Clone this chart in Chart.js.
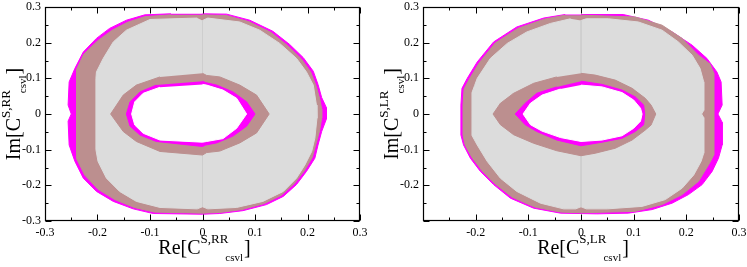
<!DOCTYPE html>
<html>
<head>
<meta charset="utf-8">
<script src="https://cdn.jsdelivr.net/npm/chart.js@4.4.0/dist/chart.umd.min.js"></script>
<style>
body{margin:0;background:#fff;}
#wrap{display:flex;width:747px;height:267px;}
canvas{display:block;}
</style>
</head>
<body>
<div id="wrap">
<canvas id="canvaRR" width="373" height="267"></canvas>
<canvas id="canvaLR" width="374" height="267"></canvas>
</div>
<script>
// contornos, [Re, Im]

// painel esquerdo (S,RR)
var rrMagentaFora = [[0,0.281],[0.046,0.28],[0.09,0.263],[0.134,0.232],[0.166,0.195],[0.192,0.158],[0.211,0.12],[0.22,0.083],[0.227,0.046],[0.236,0.018],[0.236,-0.014],[0.227,-0.049],[0.22,-0.087],[0.214,-0.124],[0.198,-0.161],[0.179,-0.198],[0.154,-0.231],[0.122,-0.254],[0.077,-0.271],[0.033,-0.279],[0,-0.281],[-0.094,-0.279],[-0.132,-0.266],[-0.17,-0.245],[-0.202,-0.217],[-0.227,-0.18],[-0.243,-0.133],[-0.254,-0.087],[-0.256,-0.02],[-0.25,0],[-0.256,0.025],[-0.254,0.09],[-0.243,0.128],[-0.227,0.174],[-0.202,0.212],[-0.177,0.24],[-0.145,0.263],[-0.11,0.278],[-0.06,0.281]];
var rrMarromFora = [[0,0.278],[0.046,0.276],[0.088,0.259],[0.13,0.229],[0.162,0.192],[0.188,0.155],[0.206,0.118],[0.216,0.08],[0.223,0.044],[0.227,0.015],[0.227,-0.012],[0.223,-0.047],[0.216,-0.085],[0.209,-0.122],[0.194,-0.159],[0.175,-0.195],[0.15,-0.228],[0.118,-0.251],[0.075,-0.268],[0.033,-0.276],[0,-0.278],[-0.092,-0.275],[-0.13,-0.262],[-0.167,-0.24],[-0.199,-0.211],[-0.224,-0.172],[-0.24,-0.125],[-0.24,0.125],[-0.226,0.168],[-0.2,0.205],[-0.173,0.234],[-0.143,0.257],[-0.11,0.273],[-0.06,0.278]];
var rrCinzaFora = [[0,0.262],[0.01,0.269],[0.071,0.258],[0.109,0.235],[0.147,0.198],[0.179,0.156],[0.198,0.118],[0.211,0.081],[0.217,0.025],[0.218,-0.012],[0.214,-0.068],[0.208,-0.105],[0.195,-0.143],[0.179,-0.18],[0.154,-0.217],[0.115,-0.245],[0.065,-0.262],[0.01,-0.266],[0,-0.26],[-0.01,-0.266],[-0.081,-0.262],[-0.126,-0.245],[-0.158,-0.217],[-0.183,-0.18],[-0.199,-0.133],[-0.203,-0.1],[-0.203,0.1],[-0.202,0.118],[-0.189,0.156],[-0.17,0.202],[-0.145,0.235],[-0.1,0.265],[-0.01,0.269]];
var rrMarromDentro = [[0,0.114],[0.008,0.108],[0.033,0.104],[0.071,0.081],[0.103,0.053],[0.127,0],[0.103,-0.053],[0.071,-0.081],[0.033,-0.104],[0.008,-0.108],[0,-0.115],[-0.081,-0.105],[-0.126,-0.077],[-0.151,-0.049],[-0.175,0],[-0.151,0.053],[-0.126,0.081],[-0.081,0.104]];
var rrMagentaDentro = [[0,0.092],[0.006,0.088],[0.027,0.081],[0.058,0.062],[0.084,0.034],[0.1,0],[0.084,-0.034],[0.058,-0.062],[0.027,-0.081],[0.006,-0.087],[0,-0.091],[-0.088,-0.077],[-0.119,-0.059],[-0.138,-0.034],[-0.145,0],[-0.138,0.034],[-0.119,0.062],[-0.088,0.081]];
var rrBuraco = [[0,0.083],[0.008,0.081],[0.039,0.067],[0.065,0.044],[0.084,0],[0.065,-0.04],[0.039,-0.069],[0.008,-0.077],[0,-0.079],[-0.081,-0.073],[-0.113,-0.054],[-0.129,-0.031],[-0.135,0],[-0.129,0.034],[-0.113,0.058],[-0.081,0.075]];

// painel direito (S,LR)
var lrMagentaFora = [[0,0.279],[0.08,0.279],[0.128,0.263],[0.173,0.23],[0.211,0.193],[0.239,0.156],[0.258,0.118],[0.266,0.09],[0.268,0.025],[0.26,0],[0.268,-0.023],[0.268,-0.087],[0.261,-0.124],[0.249,-0.161],[0.23,-0.198],[0.204,-0.226],[0.173,-0.25],[0.135,-0.268],[0.09,-0.278],[0.03,-0.28],[-0.039,-0.278],[-0.09,-0.264],[-0.134,-0.236],[-0.166,-0.198],[-0.191,-0.161],[-0.21,-0.124],[-0.223,-0.087],[-0.228,-0.059],[-0.228,0.025],[-0.226,0.072],[-0.216,0.1],[-0.197,0.146],[-0.166,0.202],[-0.122,0.244],[-0.071,0.269],[-0.03,0.279]];
var lrMarromFora = [[0,0.277],[0.103,0.272],[0.154,0.249],[0.192,0.212],[0.223,0.165],[0.245,0.14],[0.252,0.115],[0.252,-0.115],[0.247,-0.13],[0.242,-0.143],[0.223,-0.189],[0.192,-0.226],[0.154,-0.254],[0.103,-0.273],[0,-0.277],[-0.039,-0.275],[-0.088,-0.261],[-0.131,-0.233],[-0.163,-0.196],[-0.188,-0.159],[-0.207,-0.122],[-0.22,-0.087],[-0.224,-0.059],[-0.224,0.025],[-0.222,0.07],[-0.212,0.098],[-0.193,0.144],[-0.163,0.199],[-0.12,0.24],[-0.07,0.266],[-0.03,0.277]];
var lrCinzaFora = [[0,0.262],[0.01,0.267],[0.052,0.267],[0.109,0.258],[0.154,0.235],[0.185,0.202],[0.211,0.165],[0.226,0.128],[0.233,0.09],[0.233,0.01],[0.229,0],[0.233,-0.01],[0.233,-0.11],[0.228,-0.133],[0.214,-0.171],[0.192,-0.208],[0.16,-0.24],[0.116,-0.259],[0.05,-0.266],[0.01,-0.266],[0,-0.26],[-0.01,-0.266],[-0.033,-0.266],[-0.077,-0.25],[-0.122,-0.217],[-0.153,-0.18],[-0.178,-0.133],[-0.197,-0.087],[-0.207,-0.06],[-0.207,0.06],[-0.202,0.08],[-0.197,0.1],[-0.172,0.156],[-0.14,0.198],[-0.103,0.23],[-0.058,0.254],[-0.02,0.267]];
var lrMarromDentro = [[0,0.114],[0.027,0.109],[0.065,0.095],[0.097,0.072],[0.122,0.044],[0.133,0.025],[0.142,0],[0.133,-0.031],[0.122,-0.045],[0.097,-0.073],[0.065,-0.096],[0.027,-0.11],[0,-0.117],[-0.046,-0.103],[-0.09,-0.082],[-0.128,-0.058],[-0.153,-0.03],[-0.167,0],[-0.153,0.03],[-0.128,0.058],[-0.09,0.086],[-0.046,0.104]];
var lrMagentaDentro = [[0,0.092],[0.04,0.083],[0.078,0.067],[0.103,0.048],[0.119,0.025],[0.121,0],[0.119,-0.03],[0.103,-0.049],[0.078,-0.068],[0.04,-0.079],[0,-0.089],[-0.046,-0.073],[-0.084,-0.049],[-0.106,-0.03],[-0.125,0],[-0.106,0.03],[-0.084,0.058],[-0.046,0.076]];
var lrBuraco = [[0,0.081],[0.04,0.076],[0.078,0.06],[0.1,0.039],[0.113,0.016],[0.116,0],[0.113,-0.02],[0.1,-0.04],[0.078,-0.061],[0.04,-0.073],[0,-0.077],[-0.039,-0.066],[-0.074,-0.048],[-0.096,-0.03],[-0.11,0],[-0.096,0.03],[-0.074,0.053],[-0.039,0.07]];

// emenda fina em Re=0 na regiao cinza
var rrEmenda = [[0,0.262],[0,0.114],[0,null],[0,-0.115],[0,-0.26]];
var lrEmenda = [[0,0.262],[0,0.114],[0,null],[0,-0.117],[0,-0.26]];

// ticks
var ticksMaiores = [-0.3,-0.2,-0.1,0,0.1,0.2,0.3];
var ticksMenores = [-0.25,-0.15,-0.05,0.05,0.15,0.25];

var MAGENTA = '#ff00ff';
var MARROM = '#bc8f8f';
var CINZA = '#dcdcdc';
var FONTE = "'Liberation Serif', 'DejaVu Serif', serif";

function camada(pontos, cor, ordem) {
    return {
        data: pontos.map(function (p) { return { x: p[0], y: p[1] }; }),
        fill: 'shape',
        backgroundColor: cor,
        borderColor: cor,
        borderWidth: 1,
        pointRadius: 0,
        tension: 0,
        order: ordem
    };
}

function emenda(pontos) {
    return {
        data: pontos.map(function (p) { return { x: p[0], y: p[1] }; }),
        fill: false,
        borderColor: '#cecece',
        borderWidth: 1,
        pointRadius: 0,
        spanGaps: false,
        order: 3
    };
}

var molduraPlugin = { // caixa e ticks para dentro nos 4 lados
    id: 'moldura',
    afterDatasetsDraw: function (chart) {
        var ctx = chart.ctx, a = chart.chartArea;
        var sx = chart.scales.x, sy = chart.scales.y;
        ctx.save();
        ctx.strokeStyle = '#000';
        ctx.lineWidth = 1.2;
        var l = Math.round(a.left) + 0.5, r = Math.round(a.right) - 0.5;
        var t = Math.round(a.top) + 0.5, b = Math.round(a.bottom) - 0.5;
        ctx.strokeRect(l, t, r - l, b - t);
        ctx.lineWidth = 1;
        ctx.beginPath();
        function marca(v, len) {
            var px = Math.round(sx.getPixelForValue(v)) + 0.5;
            ctx.moveTo(px, b); ctx.lineTo(px, b - len);
            ctx.moveTo(px, t); ctx.lineTo(px, t + len);
            var py = Math.round(sy.getPixelForValue(v)) + 0.5;
            ctx.moveTo(l, py); ctx.lineTo(l + len, py);
            ctx.moveTo(r, py); ctx.lineTo(r - len, py);
        }
        ticksMaiores.forEach(function (v) { marca(v, 6); });
        ticksMenores.forEach(function (v) { marca(v, 3); });
        ctx.stroke();
        ctx.restore();
    }
};

function textoRico(ctx, partes) { // desenha partes com sobrescrito/subscrito centradas em 0
    var total = 0;
    partes.forEach(function (p) {
        ctx.font = p.f + 'px ' + FONTE;
        p.w = ctx.measureText(p.t).width;
        total += p.w + (p.k || 0);
    });
    var x = -total / 2;
    partes.forEach(function (p) {
        ctx.font = p.f + 'px ' + FONTE;
        x += (p.k || 0);
        ctx.fillText(p.t, x, p.d);
        x += p.w;
    });
}

function titulosPlugin(sup) {
    return {
        id: 'titulos',
        afterDraw: function (chart) {
            var ctx = chart.ctx, a = chart.chartArea;
            var cx = (a.left + a.right) / 2, cy = (a.top + a.bottom) / 2;
            ctx.save();
            ctx.fillStyle = '#000';
            ctx.textBaseline = 'alphabetic';
            ctx.textAlign = 'left';
            // eixo x
            ctx.save();
            ctx.translate(cx + 2, 254);
            textoRico(ctx, [
                { t: 'Re[C', f: 20, d: 0 },
                { t: sup, f: 13, d: -11 },
                { t: 'csvl', f: 11, d: 7, k: -3 },
                { t: ']', f: 20, d: 0, k: 1 }
            ]);
            ctx.restore();
            // eixo y
            ctx.save();
            ctx.translate(a.left - 25, cy);
            ctx.rotate(-Math.PI / 2);
            textoRico(ctx, [
                { t: 'Im[C', f: 20, d: 0 },
                { t: sup, f: 13, d: -10 },
                { t: 'csvl', f: 11, d: 6, k: -3 },
                { t: ']', f: 20, d: 0, k: 1 }
            ]);
            ctx.restore();
            ctx.restore();
        }
    };
}

function rotulo(v, esconde) {
    var r = Math.round(v * 10);
    if (esconde && r === -3) return '';
    return r === 0 ? '0' : String(r / 10);
}

function criaPainel(id, camadas, sup, esqY, dir, esconde) {
    var ctx = document.getElementById(id).getContext('2d');
    return new Chart(ctx, {
        type: 'line',
        data: { datasets: camadas },
        options: {
            responsive: false,
            animation: false,
            layout: { padding: { top: 7, right: dir, left: 0, bottom: 0 } },
            plugins: { legend: { display: false }, tooltip: { enabled: false } },
            scales: {
                x: {
                    type: 'linear', min: -0.3, max: 0.3,
                    grid: { display: false, drawTicks: false },
                    border: { display: false },
                    ticks: {
                        stepSize: 0.1, padding: 5, color: '#000',
                        font: { family: FONTE, size: 12 },
                        maxRotation: 0, autoSkip: false,
                        callback: function (v) { return rotulo(v, esconde); }
                    },
                    afterFit: function (s) { s.height = 46; s.paddingLeft = 0; s.paddingRight = 0; }
                },
                y: {
                    type: 'linear', min: -0.3, max: 0.3,
                    grid: { display: false, drawTicks: false },
                    border: { display: false },
                    ticks: {
                        stepSize: 0.1, padding: 4, color: '#000',
                        font: { family: FONTE, size: 12 },
                        autoSkip: false,
                        callback: function (v) { return rotulo(v, esconde); }
                    },
                    afterFit: function (s) { s.width = esqY; s.paddingTop = 0; s.paddingBottom = 0; }
                }
            }
        },
        plugins: [molduraPlugin, titulosPlugin(sup)]
    });
}

var myChart1 = criaPainel('canvaRR', [
    camada(rrMagentaFora, MAGENTA, 6),
    camada(rrMarromFora, MARROM, 5),
    camada(rrCinzaFora, CINZA, 4),
    emenda(rrEmenda),
    camada(rrMarromDentro, MARROM, 2.5),
    camada(rrMagentaDentro, MAGENTA, 2),
    camada(rrBuraco, '#ffffff', 1)
], 'S,RR', 45, 13, false);

var myChart2 = criaPainel('canvaLR', [
    camada(lrMagentaFora, MAGENTA, 6),
    camada(lrMarromFora, MARROM, 5),
    camada(lrCinzaFora, CINZA, 4),
    emenda(lrEmenda),
    camada(lrMarromDentro, MARROM, 2.5),
    camada(lrMagentaDentro, MAGENTA, 2),
    camada(lrBuraco, '#ffffff', 1)
], 'S,LR', 50, 8, true);
</script>
</body>
</html>
